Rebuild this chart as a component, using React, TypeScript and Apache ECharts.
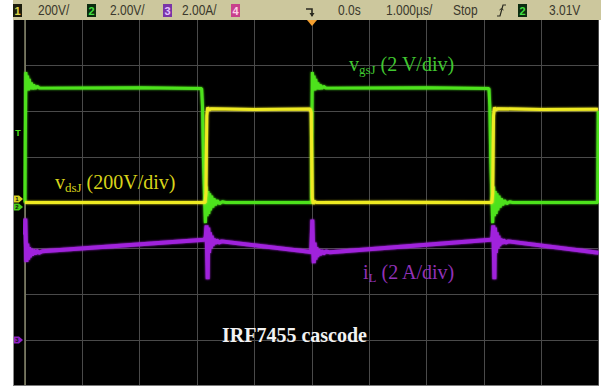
import React, { useEffect, useRef } from "react";
import * as echarts from "echarts";

// ---------------- data ----------------
// time in µs, horizontal 1 µs/div, trigger at 0
const timeRange = [-5, 5];
// channel vertical scales (units per division) and ground offset (divisions from centre)
const vdsScale = 200; // V/div
const vgsScale = 2; // V/div
const iLScale = 2; // A/div
const vdsGround = 0;
const vgsGround = 0;
const iLGround = -3;

// ch1: drain-source voltage of the JFET, V
const vdsJ: [number, number][] = [
  [-5.0, 0], [-1.86, 0], [-1.845, 40], [-1.83, 380], [-1.815, 416], [-1.79, 404], [-1.76, 410], [-1.0, 407], [-0.03, 409],
  [-0.01, 395], [0.0, 200], [0.01, 20], [0.025, -6], [0.045, 5], [0.08, 0], [1.5, 1], [3.14, 0],
  [3.155, 40], [3.17, 380], [3.185, 416], [3.21, 404], [3.24, 410], [4.0, 407], [4.99, 408],
];
// ch2: gate-source voltage of the JFET, V
const vgsJ: [number, number][] = [
  [-5.0, 0], [-4.995, 2.5], [-4.985, 5.7], [-4.97, 4.95], [-4.955, 5.55], [-4.94, 4.9], [-4.925, 5.4], [-4.91, 4.95],
  [-4.89, 5.25], [-4.87, 4.95], [-4.85, 5.15], [-4.82, 4.98], [-4.79, 5.08], [-4.75, 5.0], [-3.0, 5.02], [-1.92, 4.98],
  [-1.905, 4.2], [-1.89, 2.0], [-1.87, 0.3], [-1.855, -0.9], [-1.84, 0.7], [-1.825, -0.6], [-1.81, 0.5], [-1.795, -0.5],
  [-1.78, 0.4], [-1.765, -0.35], [-1.745, 0.3], [-1.725, -0.22], [-1.705, 0.18], [-1.68, -0.12], [-1.65, 0.1],
  [-1.61, -0.05], [-1.56, 0.03], [-1.5, 0], [-0.005, 0],
  [0.0, 2.5], [0.01, 5.7], [0.025, 4.95], [0.04, 5.55], [0.055, 4.9], [0.07, 5.4], [0.085, 4.95], [0.105, 5.25],
  [0.125, 4.95], [0.145, 5.15], [0.175, 4.98], [0.205, 5.08], [0.245, 5.0], [2.0, 5.02], [3.09, 4.98],
  [3.105, 4.2], [3.12, 2.0], [3.14, 0.3], [3.155, -0.9], [3.17, 0.7], [3.185, -0.6], [3.2, 0.5], [3.215, -0.5],
  [3.23, 0.4], [3.245, -0.35], [3.265, 0.3], [3.285, -0.22], [3.305, 0.18], [3.33, -0.12], [3.36, 0.1],
  [3.4, -0.05], [3.45, 0.03], [3.5, 0], [4.985, 0], [4.995, 4.0],
];
// ch3: inductor current, A
const iL: [number, number][] = [
  [-5.0, 4.6], [-4.995, 5.3], [-4.985, 4.2], [-4.975, 3.4], [-4.96, 4.2], [-4.945, 3.5], [-4.93, 4.05], [-4.915, 3.6],
  [-4.9, 3.98], [-4.88, 3.68], [-4.86, 3.93], [-4.83, 3.74], [-4.8, 3.9], [-4.76, 3.8], [-4.7, 3.87],
  [-1.88, 4.37], [-1.85, 4.45], [-1.835, 5.0], [-1.825, 3.9], [-1.815, 2.65], [-1.805, 4.9], [-1.79, 3.8],
  [-1.775, 4.7], [-1.76, 4.0], [-1.745, 4.55], [-1.73, 4.1], [-1.71, 4.42], [-1.69, 4.2], [-1.66, 4.36],
  [-1.62, 4.25], [-1.57, 4.3], [-0.01, 3.84],
  [0.0, 4.5], [0.01, 5.25], [0.02, 4.3], [0.035, 3.35], [0.05, 4.25], [0.065, 3.5], [0.08, 4.05], [0.095, 3.62],
  [0.115, 3.95], [0.14, 3.7], [0.17, 3.9], [0.2, 3.77], [0.25, 3.86], [0.32, 3.82],
  [3.12, 4.37], [3.15, 4.45], [3.165, 5.0], [3.175, 3.9], [3.185, 2.65], [3.195, 4.9], [3.21, 3.8],
  [3.225, 4.7], [3.24, 4.0], [3.255, 4.55], [3.27, 4.1], [3.29, 4.42], [3.31, 4.2], [3.34, 4.36],
  [3.38, 4.25], [3.43, 4.3], [5.0, 3.8],
];

// header read-outs
const headerTexts = ["200V/", "2.00V/", "2.00A/", "0.0s", "1.000µs/", "Stop", "3.01V"];
const headerChannels = ["1", "2", "3", "4", "2"];
const traceLabels = ["(2 V/div)", "(200V/div)", "(2 A/div)"];
const title = "IRF7455 cascode";

// ---------------- styling ----------------
const YELLOW = "#eeea24";
const GREEN = "#4ee21c";
const PURPLE = "#a024dc";
const SERIF = '"Liberation Serif", "Times New Roman", serif';
const SANS = '"Liberation Sans", Arial, sans-serif';

function axisFor(scale: number, ground: number, show: boolean) {
  return {
    type: "value",
    min: (-4 - ground) * scale,
    max: (4 - ground) * scale,
    interval: scale,
    show,
    axisLine: { show: false },
    axisTick: { show: false },
    axisLabel: { show: false },
    splitLine: { show, lineStyle: { color: "#4a4a4a", width: 1 } },
  };
}

function sub(x: number, y: number, main: string, subText: string, rest: string, color: string) {
  return {
    type: "text",
    x,
    y,
    z: 20,
    style: {
      text: `{m|${main}}{s|${subText}}{m| ${rest}}`,
      fill: color,
      align: "left",
      verticalAlign: "middle",
      textAlign: "left",
      textVerticalAlign: "middle",
      rich: {
        m: { fontSize: 20, fontFamily: SERIF, fill: color, color, lineHeight: 22 },
        s: {
          fontSize: 13,
          fontFamily: SERIF,
          fill: color,
          color,
          lineHeight: 13,
          verticalAlign: "top",
          padding: [10, 0, 0, 0],
        },
      },
    },
  };
}

function headerText(x: number, text: string) {
  return {
    type: "text",
    x,
    y: 10.5,
    scaleX: 0.8,
    z: 20,
    style: {
      text,
      x: 0,
      y: 0,
      fill: "#3a382c",
      font: `15px ${SANS}`,
      align: "left",
      verticalAlign: "middle",
      textAlign: "left",
      textVerticalAlign: "middle",
    },
  };
}

function headerBox(x: number, label: string, bg: string, fg: string) {
  return [
    { type: "rect", z: 15, shape: { x, y: 4, width: 9, height: 13 }, style: { fill: bg } },
    {
      type: "text",
      z: 20,
      x: x + 4.5,
      y: 10.5,
      style: {
        text: label,
        fill: fg,
        font: `bold 11px ${SANS}`,
        align: "center",
        verticalAlign: "middle",
        textAlign: "center",
        textVerticalAlign: "middle",
      },
    },
  ];
}

function marker(y: number, label: string, color: string) {
  return [
    {
      type: "polygon",
      z: 15,
      shape: { points: [[14, y - 3.5], [19, y - 3.5], [23, y], [19, y + 3.5], [14, y + 3.5]] },
      style: { fill: color, opacity: 0.9 },
    },
    {
      type: "text",
      z: 16,
      x: 17,
      y,
      style: {
        text: label,
        fill: "#111",
        font: `bold 6px ${SANS}`,
        align: "center",
        verticalAlign: "middle",
        textAlign: "center",
        textVerticalAlign: "middle",
      },
    },
  ];
}

export default function App() {
  const ref = useRef<HTMLDivElement>(null);

  useEffect(() => {
    if (!ref.current) return;
    const chart = echarts.init(ref.current, undefined, { renderer: "svg" });
    const boxColors = [
      ["#1c1c0c", "#e0d84a"],
      ["#0c2c10", "#40e040"],
      ["#7a34a8", "#e6c0ff"],
      ["#c8408c", "#ffd0e8"],
      ["#0c2c10", "#40e040"],
    ];
    const boxX = [13, 87, 163, 231, 518];
    const textX = [38, 110, 182, 338, 386, 453, 549];

    const graphic: any[] = [
      // white page around the scope screen
      { type: "rect", z: 10, shape: { x: 0, y: 0, width: 13, height: 389 }, style: { fill: "#ffffff" } },
      { type: "rect", z: 10, shape: { x: 599, y: 0, width: 4, height: 389 }, style: { fill: "#ffffff" } },
      { type: "rect", z: 10, shape: { x: 0, y: 386, width: 603, height: 3 }, style: { fill: "#ffffff" } },
      // header bar
      { type: "rect", z: 11, shape: { x: 13, y: 0, width: 588, height: 20 }, style: { fill: "#ccc79d" } },
      // screen borders
      { type: "line", z: 12, shape: { x1: 13.5, y1: 20, x2: 13.5, y2: 386 }, style: { stroke: "#8c8c8c", lineWidth: 1 } },
      { type: "line", z: 12, shape: { x1: 13, y1: 385.5, x2: 599, y2: 385.5 }, style: { stroke: "#7a7a7a", lineWidth: 1 } },
      { type: "line", z: 1, shape: { x1: 25, y1: 20, x2: 25, y2: 386 }, style: { stroke: "#86866a", lineWidth: 1.5 } },
      // trigger-position marker
      { type: "polygon", z: 15, shape: { points: [[307, 20], [317, 20], [312, 26]] }, style: { fill: "#f5a030" } },
      { type: "polyline", z: 15, shape: { points: [[306, 9], [312, 9], [312, 16]] }, style: { stroke: "#2a2a20", lineWidth: 1.6, fill: null } },
      { type: "polygon", z: 15, shape: { points: [[309.5, 13], [314.5, 13], [312, 17]] }, style: { fill: "#2a2a20" } },
      // trigger slope icon
      { type: "polyline", z: 15, shape: { points: [[497, 16], [500, 16], [503, 5], [506, 5]] }, style: { stroke: "#2a2a20", lineWidth: 1.2, fill: null } },
      { type: "polyline", z: 15, shape: { points: [[499.5, 10], [501.5, 8.5], [503.5, 10]] }, style: { stroke: "#2a2a20", lineWidth: 1, fill: null } },
      // trigger level marker on the screen
      {
        type: "text",
        z: 16,
        x: 18,
        y: 133,
        style: {
          text: "T",
          fill: GREEN,
          font: `bold 9px ${SANS}`,
          align: "center",
          verticalAlign: "middle",
          textAlign: "center",
          textVerticalAlign: "middle",
        },
      },
      ...marker(207, "2", GREEN),
      ...marker(199, "1", YELLOW),
      ...marker(340, "3", PURPLE),
      // annotations
      sub(349, 63.5, "v", "gsJ", traceLabels[0], "#40c830"),
      sub(55, 181.5, "v", "dsJ", traceLabels[1], "#d8d41a"),
      sub(363, 272, "i", "L", traceLabels[2], "#9232b8"),
      {
        type: "text",
        z: 20,
        x: 222,
        y: 335,
        style: {
          text: title,
          fill: "#f2f2f2",
          font: `bold 20px ${SERIF}`,
          align: "left",
          verticalAlign: "middle",
          textAlign: "left",
          textVerticalAlign: "middle",
        },
      },
    ];
    headerChannels.forEach((c, i) => graphic.push(...headerBox(boxX[i], c, boxColors[i][0], boxColors[i][1])));
    headerTexts.forEach((t, i) => graphic.push(headerText(textX[i], t)));

    const lineSeries = (name: string, data: [number, number][], axis: number, color: string, width: number, z: number) => ({
      name,
      type: "line",
      yAxisIndex: axis,
      data,
      showSymbol: false,
      symbol: "none",
      silent: true,
      clip: true,
      z,
      lineStyle: { color, width, shadowBlur: 2, shadowColor: color },
    });

    chart.setOption({
      animation: false,
      backgroundColor: "#000000",
      grid: { left: 25, top: 19.5, width: 573.5, height: 366, containLabel: false },
      xAxis: {
        type: "value",
        min: timeRange[0],
        max: timeRange[1],
        interval: 1,
        axisLine: { show: false },
        axisTick: { show: false },
        axisLabel: { show: false },
        splitLine: { show: true, lineStyle: { color: "#4a4a4a", width: 1 } },
      },
      yAxis: [
        axisFor(vdsScale, vdsGround, true),
        { ...axisFor(vgsScale, vgsGround, false) },
        { ...axisFor(iLScale, iLGround, false) },
      ],
      series: [
        lineSeries("iL", iL, 2, PURPLE, 4, 3),
        lineSeries("vgsJ", vgsJ, 1, GREEN, 3, 4),
        lineSeries("vdsJ", vdsJ, 0, YELLOW, 3, 5),
      ],
      graphic,
    });
    return () => chart.dispose();
  }, []);

  return (
    <div style={{ position: "absolute", left: 0, top: 0, width: 603, height: 389, background: "#fff" }}>
      <div ref={ref} style={{ width: 603, height: 389 }} />
    </div>
  );
}
